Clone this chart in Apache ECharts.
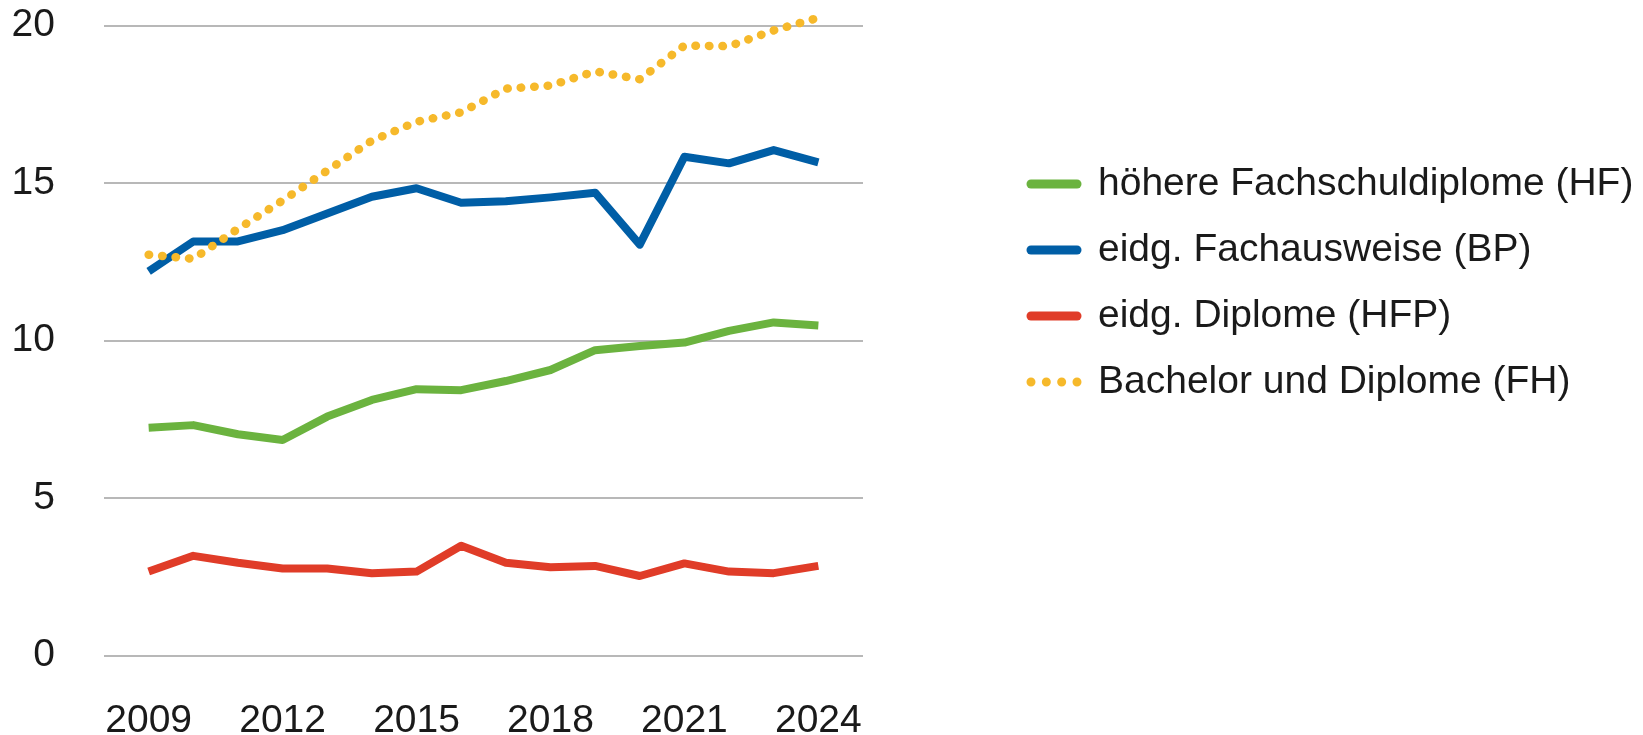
<!DOCTYPE html>
<html>
<head>
<meta charset="utf-8">
<script src="https://cdn.jsdelivr.net/npm/echarts@6/dist/echarts.min.js"></script>
<style>
html,body{margin:0;padding:0;background:#fff;}
#chart{width:1643px;height:735px;}
</style>
</head>
<body>
<div id="chart"></div>
<script>
const years = [2009,2010,2011,2012,2013,2014,2015,2016,2017,2018,2019,2020,2021,2022,2023,2024];
const xTickLabels = [2009,2012,2015,2018,2021,2024];
const seriesNames = ['höhere Fachschuldiplome (HF)','eidg. Fachausweise (BP)','eidg. Diplome (HFP)','Bachelor und Diplome (FH)'];
const hf  = [7.24,7.32,7.03,6.85,7.59,8.12,8.46,8.43,8.72,9.07,9.70,9.83,9.94,10.31,10.58,10.48];
const bp  = [12.2,13.15,13.15,13.51,14.04,14.57,14.84,14.38,14.43,14.55,14.70,13.05,15.84,15.63,16.05,15.66];
const hfp = [2.67,3.17,2.95,2.77,2.77,2.62,2.67,3.49,2.95,2.81,2.85,2.53,2.93,2.67,2.62,2.85];
const fh  = [12.73,12.6,13.55,14.45,15.4,16.35,16.95,17.25,18.0,18.1,18.55,18.3,19.37,19.35,19.85,20.25];

const colors = ['#6bb33f','#005ea6','#e03c28','#f6b92b'];
const FONT = 'Liberation Sans';
const pair = arr => years.map((y,i)=>[y,arr[i]]);

// legend icons: rounded bar and four dots, 55 x 9
const barIcon = 'path://M4.5,0 H50.5 A4.5,4.5 0 0 1 50.5,9 H4.5 A4.5,4.5 0 0 1 4.5,0 Z';
const dotIcon = 'path://' + [4.5, 19.83, 35.17, 50.5].map(c =>
  `M${c-4.5},4.5 A4.5,4.5 0 1 0 ${c+4.5},4.5 A4.5,4.5 0 1 0 ${c-4.5},4.5 Z`).join(' ');

const chart = echarts.init(document.getElementById('chart'), null, {renderer:'canvas'});
const solid = (name, data, color) => ({
  name, type:'line', data: pair(data), symbol:'none', showSymbol:false, smooth:false, clip:false,
  lineStyle:{color, width:8, cap:'butt', join:'round'}, itemStyle:{color}
});
chart.setOption({
  animation:false,
  backgroundColor:'#ffffff',
  grid:{left:104, right:780, top:25.7, bottom:79.3, containLabel:false, outerBoundsMode:'none'},
  xAxis:{
    type:'value', min:2008, max:2025,
    axisLine:{show:false}, axisTick:{show:false}, splitLine:{show:false},
    axisLabel:{customValues:xTickLabels, formatter:v=>String(v), fontFamily:FONT, fontSize:39, color:'#1a1a1a', margin:46}
  },
  yAxis:{
    type:'value', min:0, max:20, interval:5,
    axisLine:{show:false}, axisTick:{show:false},
    splitLine:{lineStyle:{color:'#b8b8b8', width:2}},
    axisLabel:{fontFamily:FONT, fontSize:39, color:'#1a1a1a', margin:49}
  },
  legend:{
    orient:'vertical', left:1021.5, top:159, padding:5, itemWidth:55, itemHeight:9, itemGap:26,
    itemStyle:{borderWidth:0},
    data: seriesNames.map((n,i)=>({name:n, icon: i===3 ? dotIcon : barIcon})),
    textStyle:{fontFamily:FONT, fontSize:39, color:'#1a1a1a', lineHeight:40, padding:[0,0,0,11.5]}
  },
  series:[
    solid(seriesNames[0], hf, colors[0]),
    solid(seriesNames[1], bp, colors[1]),
    solid(seriesNames[2], hfp, colors[2]),
    {name:seriesNames[3], type:'line', data:pair(fh), symbol:'none', showSymbol:false, clip:false,
     lineStyle:{color:colors[3], width:8.5, type:[0.5,13], cap:'round', join:'round'}, itemStyle:{color:colors[3]}}
  ]
});
</script>
</body>
</html>
